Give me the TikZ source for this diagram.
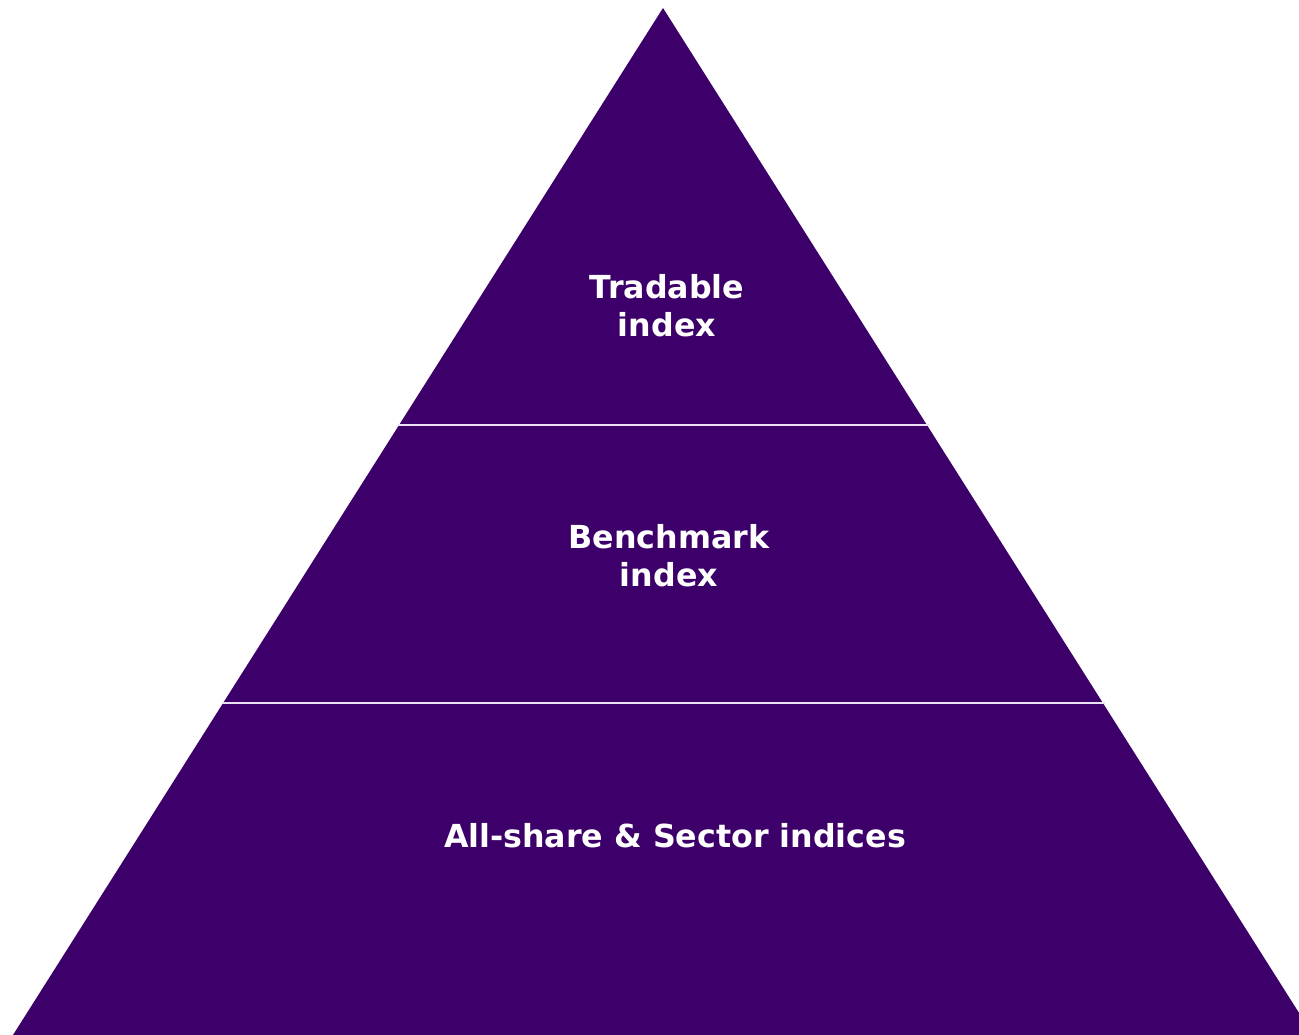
\documentclass[tikz,border=0pt]{standalone}
\usepackage{fontspec}
\setmainfont{DejaVu Sans}
\definecolor{pyr}{RGB}{61,0,107}
\definecolor{sep}{RGB}{235,225,245}
\begin{document}
\begin{tikzpicture}[x=1pt,y=-1pt,
  tier/.style={text=white,font=\fontsize{31.7}{38}\selectfont\bfseries,align=center,inner sep=0pt},
  divider/.style={draw=sep,line width=2pt}]
\useasboundingbox (0,0) rectangle (1299,1035);
\clip (0,0) rectangle (1299,1035);
\coordinate (apex) at (663,8);
\coordinate (bl) at (13,1035);
\coordinate (br) at (1313,1035);
\fill[pyr] (apex) -- (bl) -- (br) -- cycle;
\coordinate (a1) at (398,425);
\coordinate (a2) at (929,425);
\coordinate (b1) at (222,703);
\coordinate (b2) at (1105,703);
\draw[divider] (a1) -- (a2);
\draw[divider] (b1) -- (b2);
\node[tier] (t1) at (667,306) {Tradable\\index};
\node[tier] (t2) at (669,556) {Benchmark\\index};
\node[tier] (t3) at (675,836) {All-share \& Sector indices};
\end{tikzpicture}
\end{document}
